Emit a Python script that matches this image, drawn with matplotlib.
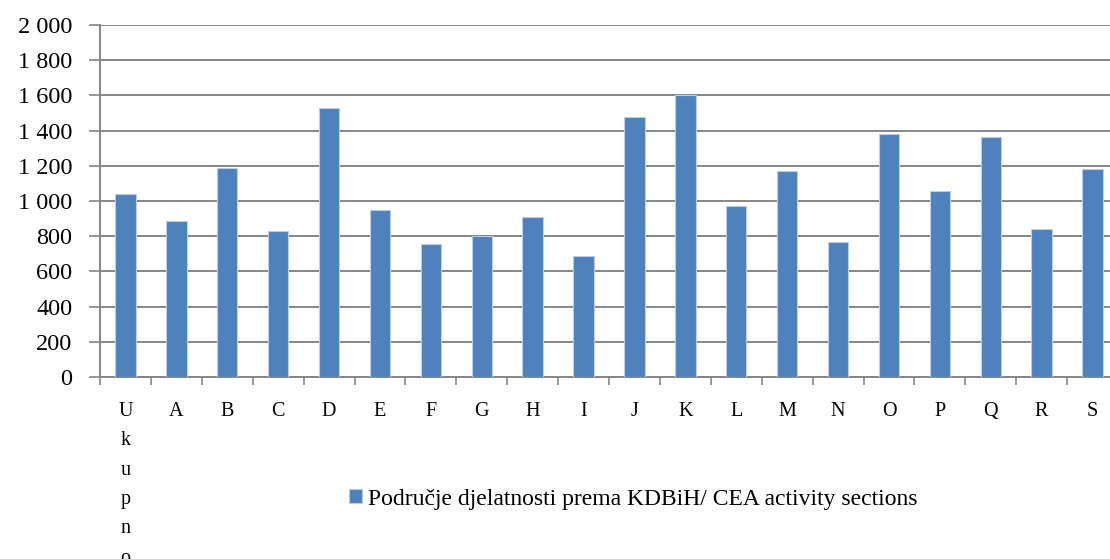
import matplotlib.pyplot as plt
import numpy as np
from matplotlib.ticker import FuncFormatter

# podaci
kategorije = ['Ukupno', 'A', 'B', 'C', 'D', 'E', 'F', 'G', 'H', 'I',
              'J', 'K', 'L', 'M', 'N', 'O', 'P', 'Q', 'R', 'S']
vrijednosti = [1041, 889, 1187, 828, 1530, 947, 758, 800, 911, 687,
               1477, 1601, 972, 1168, 766, 1383, 1057, 1366, 843, 1183]
legenda = 'Područje djelatnosti prema KDBiH/ CEA activity sections'

plt.rcParams['font.family'] = ['Liberation Serif', 'DejaVu Serif']

fig = plt.figure(figsize=(11.1, 5.59), dpi=100)
# osa izlazi malo desno van slike, kao u originalu
ax = fig.add_axes([100 / 1110, 182 / 559, 1018 / 1110, 352 / 559])

x = np.arange(len(kategorije))
ax.bar(x, vrijednosti, width=0.4, color='#4F81BD', edgecolor='#B9CDE5',
       linewidth=0.8, label=legenda, zorder=3)

ax.set_xlim(-0.5, len(kategorije) - 0.5)
ax.set_ylim(0, 2000)
ax.set_yticks(np.arange(0, 2001, 200))
ax.yaxis.set_major_formatter(FuncFormatter(lambda v, p: f'{int(v):,}'.replace(',', ' ')))
ax.grid(axis='y', color='#868686', linewidth=1.4, zorder=0)

# crtice izmedju kategorija, oznake u sredini
ax.set_xticks(np.arange(-0.5, len(kategorije), 1))
ax.set_xticklabels([])
ax.set_xticks(x, minor=True)
oznake = ['\n'.join(k) if len(k) > 1 else k for k in kategorije]
ax.set_xticklabels(oznake, minor=True, fontsize=14.5, va='top', linespacing=1.74)
ax.tick_params(axis='x', which='major', length=6, color='#868686', width=1.2)
ax.tick_params(axis='x', which='minor', length=0, pad=18)
ax.tick_params(axis='y', length=8, color='#868686', width=1.2, labelsize=17.5, pad=12)

for s in ['top', 'right']:
    ax.spines[s].set_visible(False)
for s in ['left', 'bottom']:
    ax.spines[s].set_color('#868686')
    ax.spines[s].set_linewidth(1.4)

fig.legend(loc='center left', bbox_to_anchor=(349 / 1110, 1 - 499 / 559),
           frameon=False, fontsize=17, handlelength=0.55, handleheight=0.55,
           handletextpad=0.25, borderpad=0, borderaxespad=0)

fig.savefig('out.png', dpi=100)
